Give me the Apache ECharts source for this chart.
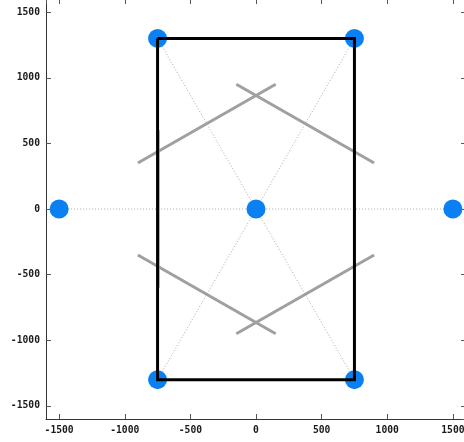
<!DOCTYPE html>
<html>
<head>
<meta charset="utf-8">
<script src="https://cdn.jsdelivr.net/npm/echarts@6/dist/echarts.min.js"></script>
<style>html,body{margin:0;padding:0;background:#fff;}#c{width:464px;height:442px;}</style>
</head>
<body>
<div id="c"></div>
<script>
// Blue points
const pointX = [-1500, 1500, 0, -750, 750, -750, 750];
const pointY = [0, 0, 0, 1300, 1300, -1300, -1300];
// Black rectangle corners (closed)
const rectX = [-750, 750, 750, -750, -750];
const rectY = [1300, 1300, -1300, -1300, 1300];
// Dotted guide segments [x1, y1, x2, y2]
const dotSegs = [
  [-1500, 0, 1500, 0],
  [-750, 1300, 750, -1300],
  [750, 1300, -750, -1300]
];
// Thick gray segments [x1, y1, x2, y2]
const graySegs = [
  [-900, 350, 150, 950],
  [-150, 950, 900, 350],
  [-900, -350, 150, -950],
  [-150, -950, 900, -350],
  [-745, 600, -745, -600]
];
const axisMin = -1600, axisMax = 1600;

const labelStyle = {fontFamily: 'DejaVu Sans Mono', fontWeight: 'bold', fontSize: 9.7, color: '#1a1a1a',
  formatter: v => String(v)};
const series = [];
dotSegs.forEach(s => series.push({
  type: 'line', showSymbol: false, silent: true,
  data: [[s[0], s[1]], [s[2], s[3]]],
  lineStyle: {color: '#a8a8a8', width: 1, type: [1, 2]}, z: 1
}));
graySegs.forEach(s => series.push({
  type: 'line', showSymbol: false, silent: true,
  data: [[s[0], s[1]], [s[2], s[3]]],
  lineStyle: {color: '#a0a0a0', width: 3}, z: 2
}));
series.push({
  type: 'scatter', symbolSize: 19,
  data: pointX.map((x, i) => [x, pointY[i]]),
  itemStyle: {color: '#0a80f2', opacity: 1}, z: 3
});
series.push({
  type: 'line', showSymbol: false, silent: true,
  data: rectX.map((x, i) => [x, rectY[i]]),
  lineStyle: {color: '#000', width: 3, join: 'miter'}, z: 4
});

const chart = echarts.init(document.getElementById('c'));
chart.setOption({
  animation: false,
  grid: {left: 46, right: -2, top: -1, bottom: 23, containLabel: false, outerBoundsMode: 'none'},
  xAxis: [
    {type: 'value', min: axisMin, max: axisMax, position: 'bottom',
     axisLine: {show: true, onZero: false, lineStyle: {color: '#333'}},
     axisTick: {show: true, inside: true, length: 5, lineStyle: {color: '#555'}},
     axisLabel: Object.assign({margin: 6, showMinLabel: false, showMaxLabel: false, hideOverlap: false}, labelStyle),
     splitLine: {show: false}},
    {type: 'value', min: axisMin, max: axisMax, position: 'top',
     axisLine: {show: false, onZero: false},
     axisTick: {show: true, inside: true, length: 5, lineStyle: {color: '#555'}},
     axisLabel: {show: false}, splitLine: {show: false}}
  ],
  yAxis: [
    {type: 'value', min: axisMin, max: axisMax, position: 'left',
     axisLine: {show: true, onZero: false, lineStyle: {color: '#333'}},
     axisTick: {show: true, inside: true, length: 5, lineStyle: {color: '#555'}},
     axisLabel: Object.assign({margin: 6, showMinLabel: false, showMaxLabel: false, hideOverlap: false}, labelStyle),
     splitLine: {show: false}},
    {type: 'value', min: axisMin, max: axisMax, position: 'right',
     axisLine: {show: false, onZero: false},
     axisTick: {show: true, inside: true, length: 5, lineStyle: {color: '#555'}},
     axisLabel: {show: false}, splitLine: {show: false}}
  ],
  series: series
});
</script>
</body>
</html>
